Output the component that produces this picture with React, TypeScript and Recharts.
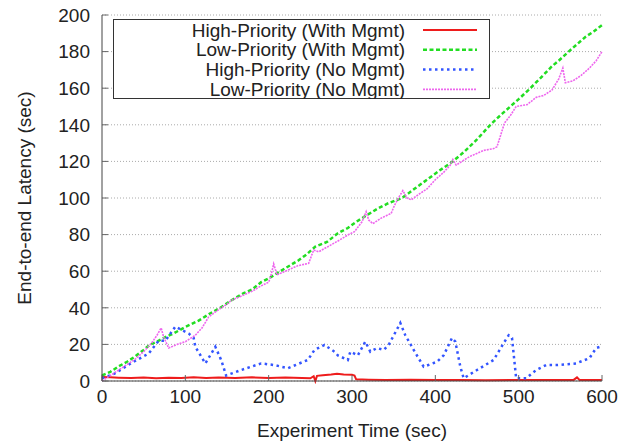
import { LineChart, Line, XAxis, YAxis, CartesianGrid, Legend } from 'recharts';

// [time (sec), latency (sec)]
const highWithMgmt = [
  [0, 2.2], [10, 2], [20, 1.8], [35, 1.6], [50, 1.9], [65, 1.5], [80, 1.8], [95, 1.6],
  [110, 2], [125, 1.7], [140, 1.9], [160, 1.6], [180, 2], [200, 1.7], [220, 1.9], [240, 1.6],
  [250, 1.5], [254, 2.6], [256, 0], [258, 2.8], [265, 3.2], [275, 3.5], [282, 3.9], [290, 3.5],
  [300, 3.4], [303, 3], [305, 0.9], [320, 0.7], [340, 0.5], [370, 0.7], [400, 0.5], [430, 0.6],
  [460, 0.4], [500, 0.6], [530, 0.5], [566, 0.6], [570, 2], [573, 0.6], [600, 0.5],
];

const lowWithMgmt = [
  [0, 3], [10, 5], [20, 8], [30, 10.5], [40, 13.5], [50, 17], [58, 20], [66, 21.5], [76, 24],
  [86, 26], [100, 29.5], [116, 33], [130, 37], [142, 40], [155, 44], [170, 48], [180, 50],
  [191, 54], [200, 56], [214, 60], [225, 63], [236, 66], [245, 69], [256, 73.4], [270, 76],
  [283, 80.7], [295, 83.6], [305, 87], [315, 89.8], [330, 94], [343, 97], [360, 100],
  [375, 105], [390, 110], [405, 115], [421, 120], [434, 125], [450, 132], [466, 140],
  [480, 146], [490, 150], [500, 154], [514, 160], [525, 165], [540, 172], [548, 175],
  [560, 180], [570, 184], [580, 188], [590, 191], [600, 194.5],
];

const highNoMgmt = [
  [0, 1.5], [15, 4], [36, 10], [56, 15], [68, 22], [76, 22], [88, 29.7], [95, 28], [104, 26],
  [110, 23.5], [112, 18.7], [124, 9.6], [136, 18.7], [143, 11.5], [149, 3], [167, 6],
  [191, 9.6], [207, 8.7], [223, 7], [247, 11.5], [255, 17], [267, 19.7], [279, 16], [283, 14],
  [295, 11.5], [298, 16], [307, 14], [316, 21.5], [322, 16], [330, 18], [338, 17], [344, 19.7],
  [358, 31.7], [364, 25], [374, 17], [386, 7.8], [402, 10.5], [410, 14], [420, 23.5],
  [424, 21.5], [430, 7.8], [434, 1.5], [450, 6], [470, 11.5], [482, 20.7], [488, 25],
  [492, 23.5], [497, 1.5], [509, 1.5], [521, 6], [533, 8.7], [545, 8.7], [569, 9.6],
  [585, 12.5], [593, 18], [600, 19],
];

const lowNoMgmt = [
  [0, 0], [10, 3], [20, 6], [30, 9], [40, 12], [50, 16], [60, 21], [66, 25], [71, 29], [74, 24],
  [80, 18], [90, 20], [100, 21.5], [112, 25], [120, 29], [128, 35], [140, 39], [150, 42],
  [155, 44], [165, 46], [180, 49], [191, 52], [200, 54], [203, 58], [206, 64], [210, 58],
  [220, 60], [235, 63], [248, 64.3], [254, 71.6], [260, 70.6], [271, 73.4], [285, 77],
  [295, 79.8], [303, 81.6], [312, 87], [317, 92.5], [320, 88], [325, 86], [335, 89],
  [347, 91.6], [351, 96], [357, 101], [361, 104], [366, 100], [371, 99], [380, 102],
  [390, 105], [400, 110], [410, 114], [418, 118], [421, 121], [425, 118], [441, 122.6],
  [458, 126], [470, 127], [474, 128], [483, 141], [490, 145], [497, 150], [510, 151],
  [521, 155], [530, 156], [540, 159], [548, 165], [553, 171], [556, 163], [565, 164],
  [575, 167], [585, 171], [593, 175], [600, 180],
];

const xTicks = [0, 100, 200, 300, 400, 500, 600];
const yTicks = [0, 20, 40, 60, 80, 100, 120, 140, 160, 180, 200];

const toRows = (pts: number[][]) => pts.map(([t, v]) => ({ t, v }));

const series = [
  { name: 'High-Priority (With Mgmt)', data: toRows(highWithMgmt), color: '#ee1c1c', width: 2, dash: undefined },
  { name: 'Low-Priority (With Mgmt)', data: toRows(lowWithMgmt), color: '#22dd22', width: 2.5, dash: '4 2.5' },
  { name: 'High-Priority (No Mgmt)', data: toRows(highNoMgmt), color: '#3355ff', width: 2.5, dash: '2.5 3.5' },
  { name: 'Low-Priority (No Mgmt)', data: toRows(lowNoMgmt), color: '#ee66ee', width: 1.6, dash: '2 1' },
];

const FONT = '"Liberation Sans", Arial, Helvetica, sans-serif';
const TEXT = '#222';

const LegendBox = () => (
  <svg width={377} height={80} style={{ display: 'block', fontFamily: FONT }}>
    <rect x={0.5} y={0.5} width={376} height={79} fill="#fff" stroke="#333" />
    {series.map((s, i) => {
      const y = 11 + i * 19.8;
      return (
        <g key={s.name}>
          <text x={292} y={y} textAnchor="end" dominantBaseline="central" fontSize={19} fill={TEXT}>
            {s.name}
          </text>
          <line x1={310} x2={364} y1={y} y2={y} stroke={s.color} strokeWidth={s.width} strokeDasharray={s.dash} />
        </g>
      );
    })}
  </svg>
);

const YTitle = (props: any) => {
  const { viewBox } = props;
  const cy = viewBox.y + viewBox.height / 2;
  return (
    <text x={31} y={cy} transform={`rotate(-90, 31, ${cy})`} textAnchor="middle" fontSize={19} fill={TEXT}>
      End-to-end Latency (sec)
    </text>
  );
};

const XTitle = (props: any) => {
  const { viewBox } = props;
  return (
    <text x={viewBox.x + viewBox.width / 2} y={viewBox.y + 56} textAnchor="middle" fontSize={19} fill={TEXT}>
      Experiment Time (sec)
    </text>
  );
};

export default function App() {
  const tickStyle = { fontSize: 19, fill: TEXT };
  return (
    <div style={{ position: 'absolute', left: 0, top: 0, fontFamily: FONT, background: '#fff' }}>
      <LineChart width={621} height={441} margin={{ top: 15, right: 19, bottom: 0, left: 0 }}>
        <CartesianGrid vertical={false} stroke="#aaa" strokeDasharray="1 2" />
        <XAxis
          dataKey="t"
          type="number"
          domain={[0, 600]}
          ticks={xTicks}
          height={60}
          tickSize={-6}
          tickMargin={15}
          tick={tickStyle}
          axisLine={{ stroke: '#444' }}
          tickLine={{ stroke: '#666' }}
          label={<XTitle />}
        />
        <XAxis
          xAxisId="top"
          orientation="top"
          type="number"
          domain={[0, 600]}
          ticks={xTicks}
          height={0}
          tickSize={-6}
          tick={false}
          axisLine={{ stroke: '#444' }}
          tickLine={{ stroke: '#666' }}
        />
        <YAxis
          type="number"
          domain={[0, 200]}
          ticks={yTicks}
          width={102}
          tickSize={-6}
          tickMargin={18}
          tick={tickStyle}
          axisLine={{ stroke: '#444' }}
          tickLine={{ stroke: '#666' }}
          label={<YTitle />}
        />
        <YAxis
          yAxisId="right"
          orientation="right"
          type="number"
          domain={[0, 200]}
          ticks={yTicks}
          width={0}
          tickSize={-6}
          tick={false}
          axisLine={{ stroke: '#444' }}
          tickLine={{ stroke: '#666' }}
        />
        <Legend
          layout="vertical"
          align="center"
          verticalAlign="middle"
          content={() => <LegendBox />}
          wrapperStyle={{ left: 113, top: 19, width: 377, height: 80 }}
        />
        {series.map((s) => (
          <Line
            key={s.name}
            data={s.data}
            dataKey="v"
            name={s.name}
            type="linear"
            stroke={s.color}
            strokeWidth={s.width}
            strokeDasharray={s.dash}
            dot={false}
            isAnimationActive={false}
          />
        ))}
      </LineChart>
    </div>
  );
}
